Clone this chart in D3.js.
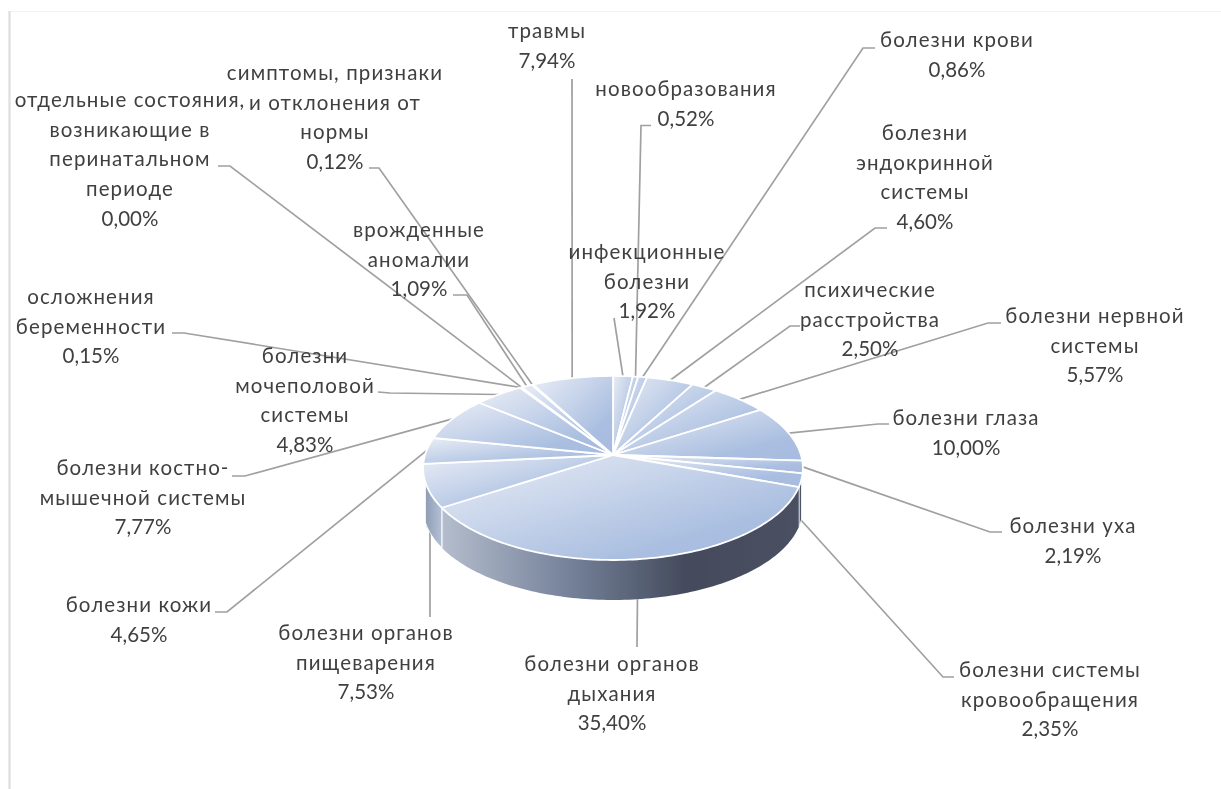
<!DOCTYPE html>
<html>
<head>
<meta charset="utf-8">
<script src="https://cdn.jsdelivr.net/npm/d3@7"></script>
<style>
  html, body { margin: 0; background: #fff; }
  svg { display: block; }
  text { font-family: Lato, "Open Sans", sans-serif; font-size: 20.5px; fill: #404040; }
  tspan.name { letter-spacing: 1.1px; }
</style>
</head>
<body>
<svg id="chart" width="1221" height="789"></svg>
<script>
const categories = [
  "инфекционные болезни", "новообразования", "болезни крови", "болезни эндокринной системы",
  "психические расстройства", "болезни нервной системы", "болезни глаза", "болезни уха",
  "болезни системы кровообращения", "болезни органов дыхания", "болезни органов пищеварения",
  "болезни кожи", "болезни костно-мышечной системы", "болезни мочеполовой системы",
  "осложнения беременности", "отдельные состояния, возникающие в перинатальном периоде",
  "врожденные аномалии", "симптомы, признаки и отклонения от нормы", "травмы",
];
const values = [1.92, 0.52, 0.86, 4.6, 2.5, 5.57, 10, 2.19, 2.35, 35.4, 7.53, 4.65, 7.77, 4.83, 0.15, 0, 1.09, 0.12, 7.94];
const labelLines = [
  ["инфекционные", "болезни"], ["новообразования"], ["болезни крови"], ["болезни", "эндокринной", "системы"],
  ["психические", "расстройства"], ["болезни нервной", "системы"], ["болезни глаза"], ["болезни уха"],
  ["болезни системы", "кровообращения"], ["болезни органов", "дыхания"], ["болезни органов", "пищеварения"],
  ["болезни кожи"], ["болезни костно-", "мышечной системы"], ["болезни", "мочеполовой", "системы"],
  ["осложнения", "беременности"], ["отдельные состояния,", "возникающие в", "перинатальном", "периоде"],
  ["врожденные", "аномалии"], ["симптомы, признаки", "и отклонения от", "нормы"], ["травмы"],
];

// label block: center x, y of first line
const labelPos = [
  [647, 252], [686, 89], [957, 40], [925, 133], [870, 290], [1095, 316], [966, 418], [1073, 526],
  [1050, 670], [612, 664], [366, 633], [139, 605], [143, 468], [305, 356], [91, 297], [130, 100],
  [419, 230], [335, 73], [547, 31],
];
// leader line: knots from the label towards the pie, the last point comes from the slice angle
const leaderKnots = [
  [[614, 318]], [[651, 125.5], [641, 125.5]], [[875, 48], [863, 48]], [[887, 228], [875, 228]],
  [[800, 326], [790, 326]], [[1001, 323], [988, 323]], [[889, 424], [878, 424]], [[1002, 532], [990, 532]],
  [[954, 677], [943, 677]], [[637, 647]], [[430, 617], [430, 530]], [[215, 612], [227, 612]],
  [[232, 476], [245, 476]], [[378, 392], [390, 393]], [[172, 333], [184, 333]], [[218, 166], [230, 166]],
  [[453, 295], [467, 295]], [[369, 168], [379, 168]], [[572, 79]],
];

const cx = 613, cy = 455, rx = 188, ry = 90.2, persp = 0.141, depth = 40;
const lineH = 29.6;
const wallFrom = 105 * Math.PI / 180, wallTo = 253 * Math.PI / 180;

const svg = d3.select("#chart");
const defs = svg.append("defs");

defs.append("filter").attr("id", "soft")
  .append("feGaussianBlur").attr("stdDeviation", 0.6);
defs.append("filter").attr("id", "softText")
  .append("feGaussianBlur").attr("stdDeviation", 0.35);

const topGrad = defs.append("linearGradient").attr("id", "topFill")
  .attr("x1", 0).attr("y1", 0).attr("x2", 1).attr("y2", 1);
topGrad.append("stop").attr("offset", "0%").attr("stop-color", "#e9edf6");
topGrad.append("stop").attr("offset", "75%").attr("stop-color", "#a9bee0");
topGrad.append("stop").attr("offset", "100%").attr("stop-color", "#a6bbdf");

const wallGrad = defs.append("linearGradient").attr("id", "wallFill")
  .attr("gradientUnits", "userSpaceOnUse")
  .attr("x1", 443).attr("y1", 0).attr("x2", 800).attr("y2", 0);
wallGrad.append("stop").attr("offset", "0%").attr("stop-color", "#b4bdcd");
wallGrad.append("stop").attr("offset", "35%").attr("stop-color", "#75829a");
wallGrad.append("stop").attr("offset", "68%").attr("stop-color", "#444b5c");
wallGrad.append("stop").attr("offset", "100%").attr("stop-color", "#4a5162");

const wallLeftGrad = defs.append("linearGradient").attr("id", "wallLeftFill")
  .attr("x1", 0).attr("y1", 0).attr("x2", 1).attr("y2", 0);
wallLeftGrad.append("stop").attr("offset", "0%").attr("stop-color", "#8f9db4");
wallLeftGrad.append("stop").attr("offset", "100%").attr("stop-color", "#b4c0d6");

// angle is clockwise from the top of the pie, perspective makes the near edge larger
function project(a, drop = 0) {
  const w = 1 + persp * Math.cos(a);
  return [
    cx + rx * Math.sin(a) / w,
    cy - ry * Math.cos(a) / w + drop,
  ];
}

function rim(a0, a1, drop = 0) {
  const n = Math.max(2, Math.ceil(Math.abs(a1 - a0) / 0.02));
  return d3.range(n + 1).map((i) => project(a0 + (a1 - a0) * i / n, drop));
}

const arcs = d3.pie().sort(null).value((d) => d)
  .startAngle(0).endAngle(2 * Math.PI)(values);

const line = d3.line();

// frame
svg.append("line").attr("x1", 9).attr("x2", 1221).attr("y1", 11.5).attr("y2", 11.5)
  .attr("stroke", "#f2f2f2").attr("stroke-width", 1);
svg.append("line").attr("x1", 9.5).attr("x2", 9.5).attr("y1", 11).attr("y2", 789)
  .attr("stroke", "#dedede").attr("stroke-width", 2.2);

const overlay = svg.append("g").attr("filter", "url(#softText)");

// leaders
arcs.forEach((d, i) => {
  const mid = (d.startAngle + d.endAngle) / 2;
  const onWall = mid > wallFrom && mid < wallTo;
  const end = project(mid, onWall ? depth : 0);
  overlay.append("path")
    .attr("d", line(leaderKnots[i].concat([end])))
    .attr("fill", "none")
    .attr("stroke", "#a0a0a0")
    .attr("stroke-width", 1.7);
});

const pieG = svg.append("g").attr("filter", "url(#soft)");

// side wall, only the part facing the viewer
arcs.forEach((d) => {
  const a0 = Math.max(d.startAngle, wallFrom);
  const a1 = Math.min(d.endAngle, wallTo);
  if (a1 <= a0) return;
  const pts = rim(a0, a1).concat(rim(a1, a0, depth));
  pieG.append("path")
    .attr("d", line(pts) + "Z")
    .attr("fill", a0 > Math.PI ? "url(#wallLeftFill)" : "url(#wallFill)")
    .attr("stroke", a1 - a0 > 1 ? "none" : "#fff")
    .attr("stroke-width", 0.8);
  if (a1 < wallTo) {
    pieG.append("path")
      .attr("d", line([project(a1), project(a1, depth)]))
      .attr("stroke", "#e8ecf4").attr("stroke-width", 1.8).attr("fill", "none");
  }
});

// top face
pieG.selectAll("path.slice")
  .data(arcs.filter((d) => d.value > 0))
  .join("path")
  .attr("class", "slice")
  .attr("d", (d) => line([[cx, cy]].concat(rim(d.startAngle, d.endAngle))) + "Z")
  .attr("fill", "url(#topFill)")
  .attr("stroke", "#fff")
  .attr("stroke-width", 1.8)
  .attr("stroke-linejoin", "round");

// labels
const labelG = svg.append("g").attr("filter", "url(#softText)");
const fmt = (v) => v.toFixed(2).replace(".", ",") + "%";
arcs.forEach((d, i) => {
  const [lx, ly] = labelPos[i];
  const t = labelG.append("text").attr("text-anchor", "middle");
  labelLines[i].forEach((s, k) => {
    t.append("tspan").attr("class", "name").attr("x", lx).attr("y", ly + k * lineH).attr("dy", "0.35em").text(s);
  });
  t.append("tspan").attr("x", lx).attr("y", ly + labelLines[i].length * lineH).attr("dy", "0.35em").text(fmt(values[i]));
});
</script>
</body>
</html>
